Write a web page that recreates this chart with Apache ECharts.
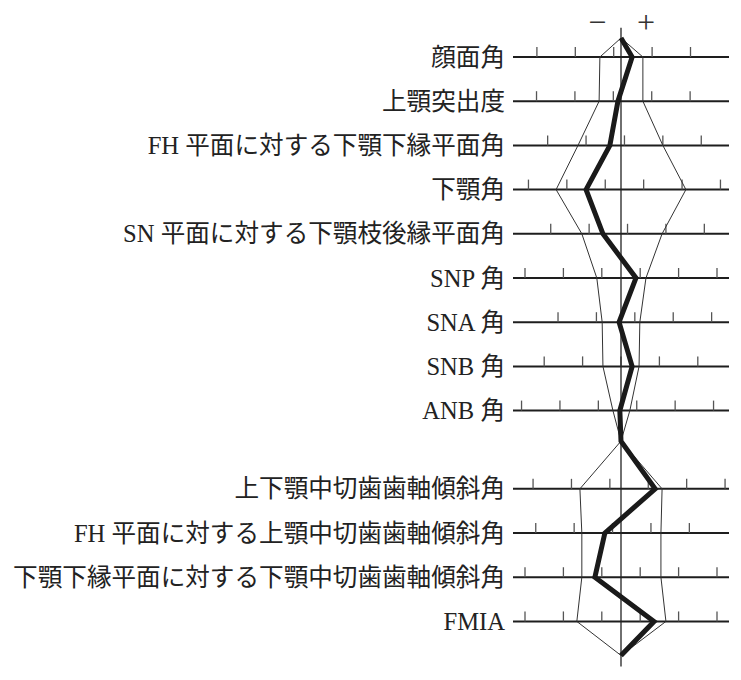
<!DOCTYPE html>
<html>
<head>
<meta charset="utf-8">
<script src="https://cdn.jsdelivr.net/npm/echarts@6/dist/echarts.min.js"></script>
<style>
	html, body { margin: 0; padding: 0; background: #fff; }
	#chart { width: 741px; height: 680px; }
</style>
</head>
<body>
<div id="chart"></div>
<script>
// measurements, top to bottom (first 9 skeletal, last 4 dental)
const labels = [
	'顔面角',
	'上顎突出度',
	'FH 平面に対する下顎下縁平面角',
	'下顎角',
	'SN 平面に対する下顎枝後縁平面角',
	'SNP 角',
	'SNA 角',
	'SNB 角',
	'ANB 角',
	'上下顎中切歯歯軸傾斜角',
	'FH 平面に対する上顎中切歯歯軸傾斜角',
	'下顎下縁平面に対する下顎中切歯歯軸傾斜角',
	'FMIA',
]
const groupSizes = [9, 4]

// values in tick units, 0 = mean
const sdMinus = [-0.55, -0.57, -1.12, -1.69, -1.02, -0.63, -0.49, -0.47, -0.21, -1.07, -1.02, -1.02, -1.15]
const sdPlus = [0.57, 0.57, 1.09, 1.69, 1.07, 0.65, 0.49, 0.47, 0.23, 1.07, 1.04, 1.04, 1.17]
const patient = [0.29, -0.08, -0.29, -0.91, -0.47, 0.39, -0.05, 0.29, -0.03, 0.89, -0.42, -0.68, 0.86]

// where the scale ticks sit on each row (fraction of a tick step)
const tickOffsets = [0.81, 0.8, 0.09, 0.59, 0.17, 0.5, 0.36, 0.0, 0.41, 0.71, 0.78, 0.5, 0.5]

const signLabels = ['−', '+']

// layout (row units)
const X_MIN = -2.8125
const X_MAX = 2.8125
const GROUP_GAP = 0.77
const TOP_APEX = 0.43
const MID_NODE = 0.69
const BOTTOM_APEX = 0.77

const FONT = "'Liberation Serif', 'Noto Sans CJK JP', serif"

const rowY = (i) => (i < groupSizes[0] ? i : i + GROUP_GAP)

// polygon path: apex, rows of group 1, node, rows of group 2, apex
const buildPath = (values) => {
	const n1 = groupSizes[0]
	const pts = [[0, -TOP_APEX]]
	values.forEach((v, i) => {
		if (i === n1) pts.push([0, rowY(n1 - 1) + MID_NODE])
		pts.push([v, rowY(i)])
	})
	pts.push([0, rowY(values.length - 1) + BOTTOM_APEX])
	return pts
}

const renderRow = (params, api) => {
	const y = api.value(0)
	const off = api.value(1)
	const left = api.coord([X_MIN, y])
	const right = api.coord([X_MAX, y])
	const children = [
		{
			type: 'line',
			shape: { x1: left[0], y1: left[1], x2: right[0], y2: right[1] },
			style: { stroke: '#1e1e1e', lineWidth: 2 },
		},
	]
	for (let k = -4; k <= 4; k++) {
		const v = k + off
		if (v < -2.61 || v > 2.75) continue
		const p = api.coord([v, y])
		children.push({
			type: 'line',
			shape: { x1: p[0], y1: p[1], x2: p[0], y2: p[1] - 10 },
			style: { stroke: '#555', lineWidth: 1.3 },
		})
	}
	children.push({
		type: 'text',
		x: left[0] - 8,
		y: left[1],
		style: {
			text: labels[params.dataIndex],
			fill: '#222',
			font: '24.6px ' + FONT,
			align: 'right',
			verticalAlign: 'middle',
		},
	})
	return { type: 'group', children }
}

const chart = echarts.init(document.getElementById('chart'), null, { renderer: 'svg' })

const lastRow = rowY(labels.length - 1)

const option = {
	animation: false,
	grid: { left: 513, width: 216, top: 12.8, height: 663 },
	xAxis: { type: 'value', min: X_MIN, max: X_MAX, show: false },
	yAxis: { type: 'value', min: -1, max: 14, inverse: true, show: false },
	series: [
		{
			type: 'custom',
			renderItem: renderRow,
			data: labels.map((l, i) => [rowY(i), tickOffsets[i]]),
			encode: { x: -1, y: 0 },
			silent: true,
			z: 1,
		},
		{
			type: 'line',
			data: buildPath(sdMinus),
			symbol: 'none',
			lineStyle: { color: '#333', width: 1 },
			z: 2,
		},
		{
			type: 'line',
			data: buildPath(sdPlus),
			symbol: 'none',
			lineStyle: { color: '#333', width: 1 },
			z: 2,
		},
		{
			type: 'line',
			data: [
				[0, -TOP_APEX - 0.23],
				[0, lastRow + BOTTOM_APEX + 0.25],
			],
			symbol: 'none',
			lineStyle: { color: '#222', width: 1.3 },
			z: 3,
		},
		{
			type: 'line',
			data: buildPath(patient),
			symbol: 'none',
			lineStyle: { color: '#1a1a1a', width: 5, join: 'miter', miterLimit: 10 },
			z: 4,
		},
	],
}

chart.setOption(option)

// − / + above the centre line
const signPos = [
	chart.convertToPixel({ gridIndex: 0 }, [-0.62, -0.79]),
	chart.convertToPixel({ gridIndex: 0 }, [0.65, -0.79]),
]
chart.setOption({
	graphic: signLabels.map((s, i) => ({
		type: 'text',
		x: signPos[i][0],
		y: signPos[i][1],
		style: {
			text: s,
			fill: '#333',
			font: '32px ' + FONT,
			align: 'center',
			verticalAlign: 'middle',
		},
	})),
})
</script>
</body>
</html>
